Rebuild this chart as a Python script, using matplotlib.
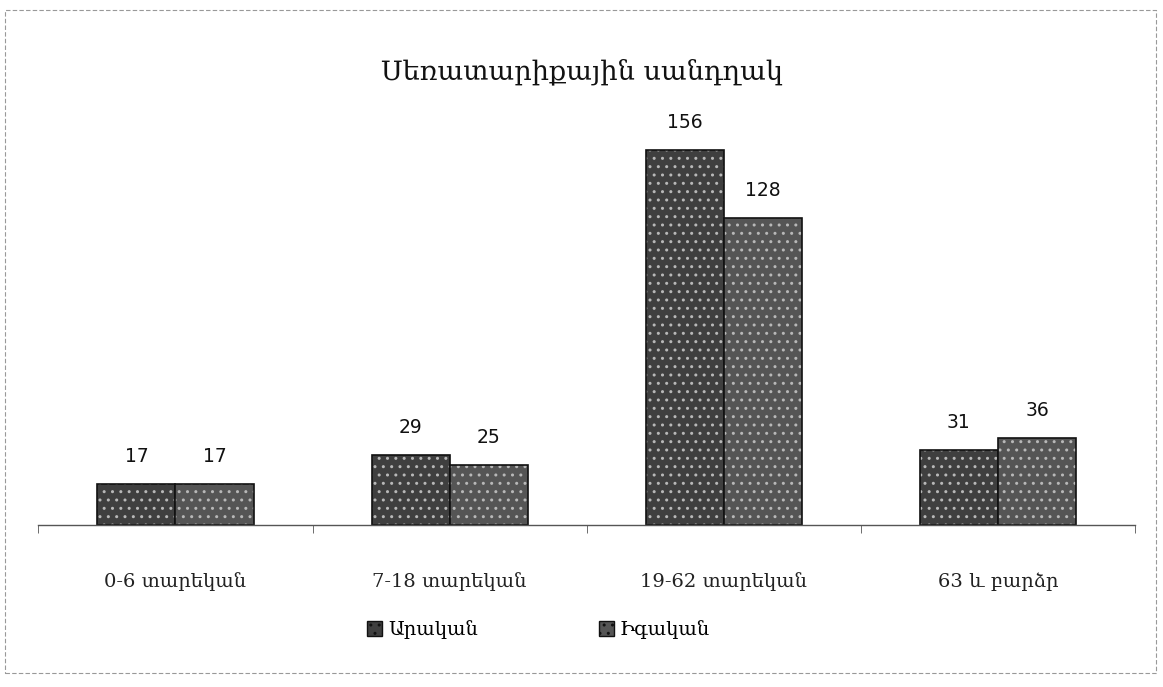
import matplotlib.pyplot as plt
import numpy as np
from matplotlib.patches import Patch, Rectangle

categories = ['0-6 տարեկան', '7-18 տարեկան', '19-62 տարեկան', '63 և բարձր']
male = [17, 29, 156, 31]
female = [17, 25, 128, 36]
series_names = ['Արական', 'Իգական']

ARM_FONT = 'DejaVu Serif'
NUM_FONT = 'DejaVu Sans'

fig = plt.figure(figsize=(11.63, 6.87), dpi=100)
ax = fig.add_axes([0.033, 0.236, 0.943, 0.594])

x = np.arange(len(categories))
width = 0.285
colors = ['#3f3f3f', '#555555']

for i, (vals, col) in enumerate(zip([male, female], colors)):
    offs = (i - 0.5) * width
    bars = ax.bar(x + offs, vals, width, color=col, edgecolor='#111111',
                  linewidth=1.2, hatch='..', zorder=2)
    for b in bars:
        b._hatch_color = (0.72, 0.72, 0.72, 1)
    for xi, v in zip(x + offs, vals):
        ax.annotate(str(v), (xi, v), xytext=(0, 13), textcoords='offset points',
                    ha='center', va='bottom', fontsize=13.5, family=NUM_FONT,
                    color='#111111')

ax.set_xlim(-0.5, len(categories) - 0.5)
ax.set_ylim(0, 170)
ax.set_yticks([])
for s in ['top', 'right', 'left']:
    ax.spines[s].set_visible(False)
ax.spines['bottom'].set_color('#555555')
ax.spines['bottom'].set_linewidth(1.0)

ax.set_xticks(x)
ax.set_xticklabels(categories, fontsize=14, family=ARM_FONT, color='#222222')
ax.tick_params(axis='x', which='major', length=0, pad=34)
ax.set_xticks(np.arange(-0.5, len(categories)), minor=True)
ax.tick_params(axis='x', which='minor', length=6, color='#555555', direction='out')

fig.text(0.5, 0.895, 'Սեռատարիքային սանդղակ', ha='center', va='center',
         fontsize=19.5, family=ARM_FONT, color='#111111')

handles = [Patch(facecolor=c, edgecolor='#111111', hatch='..') for c in colors]
fig.legend(handles, series_names, loc='center', bbox_to_anchor=(0.463, 0.083),
           ncol=2, frameon=False, columnspacing=6.2, handlelength=0.8,
           handleheight=0.8, handletextpad=0.3,
           prop={'family': ARM_FONT, 'size': 14})

# light frame around the whole chart
fig.patches.append(Rectangle((0.004, 0.02), 0.99, 0.965, transform=fig.transFigure,
                             fill=False, edgecolor='#999999', linewidth=0.8,
                             linestyle=(0, (4, 2))))

fig.savefig('out.png', dpi=100)
